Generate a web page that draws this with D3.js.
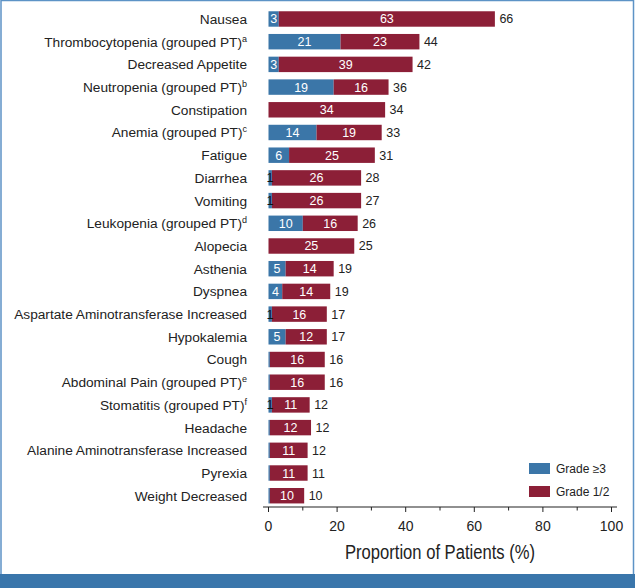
<!DOCTYPE html>
<html><head><meta charset="utf-8">
<script src="https://cdn.jsdelivr.net/npm/d3@7"></script>
<style>
html,body{margin:0;padding:0;background:#fff;}
svg{display:block;font-family:"Liberation Sans",Arial,sans-serif;}
</style></head>
<body><svg id="c" width="635" height="588"></svg>
<script>
const categories = ["Nausea","Thrombocytopenia (grouped PT)","Decreased Appetite","Neutropenia (grouped PT)","Constipation","Anemia (grouped PT)","Fatigue","Diarrhea","Vomiting","Leukopenia (grouped PT)","Alopecia","Asthenia","Dyspnea","Aspartate Aminotransferase Increased","Hypokalemia","Cough","Abdominal Pain (grouped PT)","Stomatitis (grouped PT)","Headache","Alanine Aminotransferase Increased","Pyrexia","Weight Decreased"];
const superscripts = ["","a","","b","","c","","","","d","","","","","","","e","f","","","",""];
const grade3 = [3,21,3,19,0,14,6,1,1,10,0,5,4,1,5,0.4,0.4,1,0.4,0.4,0.4,0.4];
const grade3Labels = ["3","21","3","19","","14","6","1","1","10","","5","4","1","5","","","1","","","",""];
const grade12 = [63,23,39,16,34,19,25,26,26,16,25,14,14,16,12,16,16,11,12,11,11,10];
const totals = [66,44,42,36,34,33,31,28,27,26,25,19,19,17,17,16,16,12,12,12,11,10];
const xTicks = [0,20,40,60,80,100];
const minorTicks = [10,30,50,70,90];
const seriesNames = ["Grade \u22653","Grade 1/2"];
const colors = ["#3b76a8","#8c1f37"];

const svg = d3.select("#c");
// frame
svg.append("rect").attr("x",1).attr("y",0.5).attr("width",632.5).attr("height",580).attr("fill","none").attr("stroke","#5d93c6").attr("stroke-width",1.5);
svg.append("rect").attr("x",0).attr("y",574).attr("width",635).attr("height",14).attr("fill","#3a76ab");

const x = d3.scaleLinear().domain([0,100]).range([268.5,611.5]);
const y = d3.scaleBand().domain(categories).range([4,510.7]).paddingInner(0.32).paddingOuter(0.32);
const bw = y.bandwidth();

const g = svg.append("g");
categories.forEach((c,i)=>{
  const yy = y(c);
  if (grade3[i] > 0) {
    g.append("rect").attr("x",x(0)).attr("y",yy).attr("width",x(grade3[i])-x(0)).attr("height",bw).attr("fill",colors[0]);
  }
  g.append("rect").attr("x",x(grade3[i])).attr("y",yy).attr("width",x(grade3[i]+grade12[i])-x(grade3[i])).attr("height",bw).attr("fill",colors[1]);
  if (grade3Labels[i]) {
    const small = grade3[i] < 2;
    g.append("text").attr("x", small ? x(0)+1.5 : (x(0)+x(grade3[i]))/2).attr("y",yy+bw/2).attr("dy","0.36em")
      .attr("text-anchor","middle").attr("font-size",12.5).attr("fill", small ? "#111" : "#fff").text(grade3Labels[i]);
  }
  g.append("text").attr("x",(x(grade3[i])+x(grade3[i]+grade12[i]))/2).attr("y",yy+bw/2).attr("dy","0.36em")
    .attr("text-anchor","middle").attr("font-size",12.5).attr("fill","#fff").text(grade12[i]);
  g.append("text").attr("x",x(grade3[i]+grade12[i])+4.5).attr("y",yy+bw/2).attr("dy","0.36em")
    .attr("font-size",12.5).attr("fill","#222").text(totals[i]);
  const t = g.append("text").attr("x",247).attr("y",yy+bw/2).attr("dy","0.36em").attr("text-anchor","end")
    .attr("font-size",13.7).attr("fill","#222");
  t.append("tspan").text(c);
  if (superscripts[i]) t.append("tspan").attr("font-size",9).attr("dy","-0.55em").text(superscripts[i]);
});

// axis
const axisY = 507;
const ax = svg.append("g").attr("transform",`translate(0,${axisY})`);
ax.append("line").attr("x1",263).attr("x2",617).attr("stroke","#222").attr("stroke-width",1.2);
ax.selectAll(".maj").data(xTicks).join("line").attr("x1",d=>x(d)).attr("x2",d=>x(d)).attr("y1",0).attr("y2",5).attr("stroke","#222");
ax.selectAll(".min").data(minorTicks).join("line").attr("x1",d=>x(d)).attr("x2",d=>x(d)).attr("y1",0).attr("y2",3.5).attr("stroke","#222");
ax.selectAll(".tl").data(xTicks).join("text").attr("x",d=>x(d)).attr("y",19).attr("dy","0.36em").attr("text-anchor","middle")
  .attr("font-size",14).attr("fill","#222").text(d=>d);
svg.append("text").attr("x",440).attr("y",552).attr("dy","0.36em").attr("text-anchor","middle").attr("font-size",19.5)
  .attr("textLength",190).attr("lengthAdjust","spacingAndGlyphs").attr("fill","#222").text("Proportion of Patients (%)");

// legend
seriesNames.forEach((s,i)=>{
  const ly = 463 + i*23;
  svg.append("rect").attr("x",529).attr("y",ly).attr("width",21).attr("height",11).attr("fill",colors[i]);
  svg.append("text").attr("x",556).attr("y",ly+5.5).attr("dy","0.36em").attr("font-size",12).attr("fill","#222").text(s);
});
</script></body></html>
